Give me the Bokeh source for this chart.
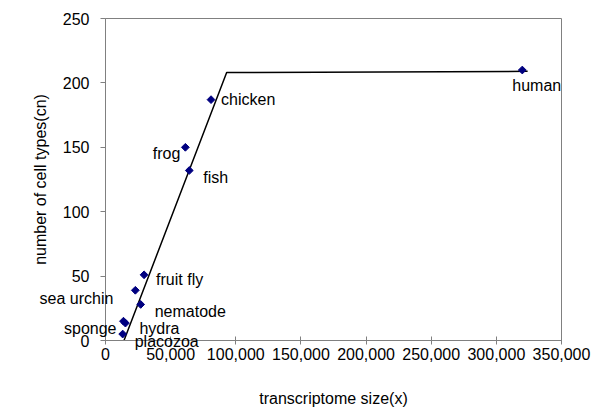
import numpy as np
from bokeh.plotting import figure
from bokeh.models import NumeralTickFormatter, FixedTicker, Range1d
from bokeh.core.properties import value
from bokeh.embed import file_html
from bokeh.resources import INLINE

# data
species = ["placozoa", "sponge", "hydra", "sea urchin", "nematode", "fruit fly",
           "frog", "fish", "chicken", "human"]
transcriptome = [13200, 13800, 15300, 22900, 27000, 29600, 61300, 64300, 81000, 319900]
cell_types = [5, 15, 13.5, 39, 28, 51, 150, 132, 187, 210]

fit_x = [14200, 93000, 324000]
fit_y = [0, 208, 209]

x_ticks = [0, 50000, 100000, 150000, 200000, 250000, 300000, 350000]
y_ticks = [0, 50, 100, 150, 200, 250]

# label layout (pixels): dx, dy (up positive), alignment
label_dx = [12, -7, 14, -22, 14, 12, -5, 14, 10, -10]
label_dy = [-7, -7, -5, -8, -7, -5, -6, -7, 0, -15]
label_align = ["left", "right", "left", "right", "left", "left", "right", "left", "left", "left"]

FONT = "Liberation Sans"

p = figure(width=600, height=419, output_backend="svg", toolbar_location=None,
           x_range=Range1d(0, 350000), y_range=Range1d(0, 250),
           min_border_left=105, min_border_right=39, min_border_top=18, min_border_bottom=79)

p.xgrid.visible = False
p.ygrid.visible = False
p.outline_line_color = "#808080"
p.outline_line_width = 1
p.background_fill_color = "white"
p.border_fill_color = "white"

p.line(fit_x, fit_y, line_color="black", line_width=1.5)
p.scatter(transcriptome, cell_types, marker="square", angle=np.pi / 4, size=5.5,
          fill_color="#000080", line_color="#000080")

p.text(x=transcriptome, y=cell_types, text=species,
       x_offset=label_dx, y_offset=[-d for d in label_dy], text_align=label_align,
       text_baseline="middle", text_font=value(FONT), text_font_size="16px",
       text_color="black", level="overlay")

p.xaxis.ticker = FixedTicker(ticks=x_ticks)
p.yaxis.ticker = FixedTicker(ticks=y_ticks)
p.xaxis.formatter = NumeralTickFormatter(format="0,0")
p.xaxis.axis_label = "transcriptome size(x)"
p.yaxis.axis_label = "number of cell types(cn)"

for ax in (p.xaxis[0], p.yaxis[0]):
    ax.axis_line_color = "#808080"
    ax.major_tick_line_color = "#808080"
    ax.minor_tick_line_color = None
    ax.major_label_text_font = FONT
    ax.major_label_text_font_size = "16px"
    ax.major_label_text_color = "black"
    ax.axis_label_text_font = FONT
    ax.axis_label_text_font_size = "16px"
    ax.axis_label_text_font_style = "normal"
    ax.axis_label_text_color = "black"

p.xaxis.major_tick_in = 4
p.xaxis.major_tick_out = 4
p.xaxis.major_label_standoff = 3
p.xaxis.axis_label_standoff = 27
p.yaxis.major_tick_in = 0
p.yaxis.major_tick_out = 5
p.yaxis.major_label_standoff = 11
p.yaxis.axis_label_standoff = 11

open("out.html", "w").write(file_html(p, INLINE))
